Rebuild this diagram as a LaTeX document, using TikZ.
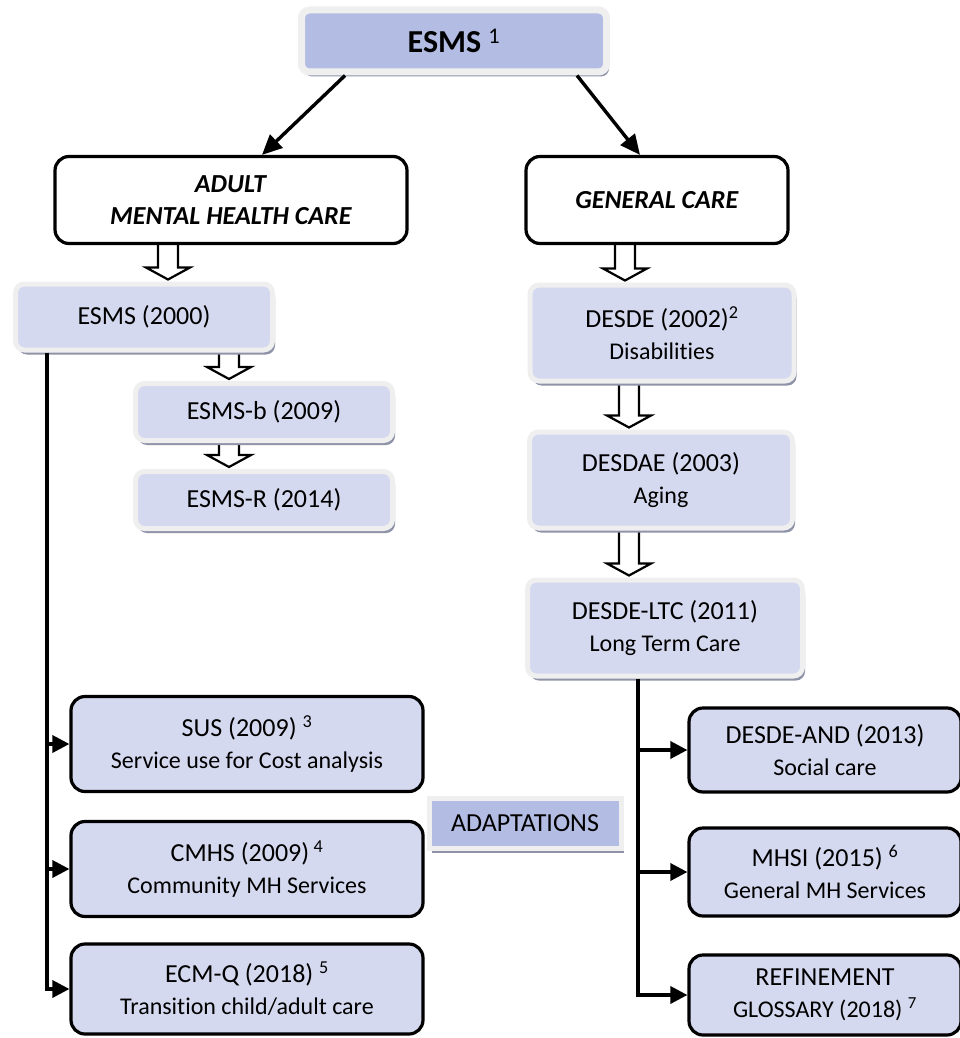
\documentclass[tikz,border=0pt]{standalone}
\usepackage{fontspec}
\setmainfont[Ligatures=NoCommon]{Carlito}
\usetikzlibrary{arrows.meta,shadows,calc,backgrounds}
\definecolor{lightfill}{HTML}{D5D9EF}
\definecolor{darkfill}{HTML}{B3BCE2}
\definecolor{framecol}{HTML}{EFEFEF}
\definecolor{shadowcol}{HTML}{8E93A8}
\newcommand{\subline}[1]{{\fontsize{24}{30}\selectfont #1}}
\tikzset{
  txt/.style={align=center, font=\fontsize{26}{32}\selectfont, inner sep=0pt},
  softbox/.style={txt, rounded corners=9pt, fill=lightfill, draw=framecol, line width=5pt,
    drop shadow={shadow xshift=2.5pt, shadow yshift=-4.5pt, fill=shadowcol, opacity=1}},
  darkbox/.style={softbox, fill=darkfill},
  wbox/.style={txt, rounded corners=14pt, fill=white, draw=black, line width=3.2pt},
  bbox/.style={wbox, fill=lightfill},
  conn/.style={line width=3.4pt, draw=black},
  tip/.style={-{Triangle[length=17pt,width=17pt]}},
  bigtip/.style={-{Triangle[length=20pt,width=18pt]}},
  hollow/.style={draw=black, line width=2.2pt, fill=white, line join=miter},
}
\newcommand{\blockarrow}[3]{%
  \draw[hollow] let \p1=(#2.south), \p2=(#3.north) in
    ({#1pt-10pt},\y1) -- ({#1pt-10pt},{\y2+14pt}) -- ({#1pt-22pt},{\y2+14pt}) --
    ({#1pt},{\y2+2pt}) -- ({#1pt+22pt},{\y2+14pt}) -- ({#1pt+10pt},{\y2+14pt}) --
    ({#1pt+10pt},\y1);}
\begin{document}
\begin{tikzpicture}[x=1pt,y=-1pt]
\useasboundingbox (0,0) rectangle (959,1038);
% top
\node[darkbox, line width=7pt, rounded corners=8pt, minimum width=305pt, minimum height=62pt,
  font=\fontsize{32}{36}\selectfont] (top) at (454,41) {\textbf{ESMS} \textsuperscript{1}};
\node[wbox, minimum width=352pt, minimum height=87pt] (adult) at (231,200)
  {\textbf{\textit{ADULT}}\\\textbf{\textit{MENTAL HEALTH CARE}}};
\node[wbox, minimum width=262pt, minimum height=87pt] (general) at (657,200)
  {\textbf{\textit{GENERAL CARE}}};
% left column
\node[softbox, minimum width=257pt, minimum height=66pt] (esms00) at (144,317) {ESMS (2000)};
\node[softbox, minimum width=257pt, minimum height=57pt] (esmsb) at (264,412) {ESMS-b (2009)};
\node[softbox, minimum width=257pt, minimum height=57pt] (esmsr) at (264,500) {ESMS-R (2014)};
% right column
\node[softbox, minimum width=264pt, minimum height=96pt] (desde) at (662,333)
  {DESDE (2002)\textsuperscript{2}\\\subline{Disabilities}};
\node[softbox, minimum width=263pt, minimum height=96pt] (desdae) at (661,480)
  {DESDAE (2003)\\\subline{Aging}};
\node[softbox, minimum width=275pt, minimum height=96pt] (ltc) at (665,628)
  {DESDE-LTC (2011)\\\subline{Long Term Care}};
% adaptations left
\node[bbox, minimum width=352pt, minimum height=95pt] (sus) at (247,744)
  {SUS (2009) \textsuperscript{3}\\\subline{Service use for Cost analysis}};
\node[bbox, minimum width=352pt, minimum height=95pt] (cmhs) at (247,869)
  {CMHS (2009)\,\textsuperscript{4}\\\subline{Community MH Services}};
\node[bbox, minimum width=352pt, minimum height=90pt] (ecmq) at (247,989)
  {ECM-Q (2018) \textsuperscript{5}\\\subline{Transition child/adult care}};
\node[darkbox, rounded corners=0pt, minimum width=192pt, minimum height=50pt] (adapt) at (525,823)
  {ADAPTATIONS};
% adaptations right
\node[bbox, minimum width=272pt, minimum height=84pt] (dand) at (825,750)
  {DESDE-AND (2013)\\\subline{Social care}};
\node[bbox, minimum width=272pt, minimum height=88pt] (mhsi) at (825,872)
  {MHSI (2015) \textsuperscript{6}\\\subline{General MH Services}};
\node[bbox, minimum width=272pt, minimum height=80pt] (refine) at (825,995)
  {REFINEMENT\\\subline{GLOSSARY (2018) \textsuperscript{7}}};
% helper coordinates
\coordinate (t1) at (345,0);
\coordinate (t2) at (577,0);
\coordinate (a1) at (262,0);
\coordinate (a2) at (640,0);
\coordinate (lx) at (47,0);
\coordinate (rx) at (638,0);
% connectors
\draw[conn, bigtip] (top.south -| t1) -- (adult.north -| a1);
\draw[conn, bigtip] (top.south -| t2) -- (general.north -| a2);
\draw[conn, tip] (esms00.south -| lx) |- (ecmq.west);
\draw[conn, tip] (sus.west -| lx) -- (sus.west);
\draw[conn, tip] (cmhs.west -| lx) -- (cmhs.west);
\draw[conn, tip] (ltc.south -| rx) |- (refine.west);
\draw[conn, tip] (dand.west -| rx) -- (dand.west);
\draw[conn, tip] (mhsi.west -| rx) -- (mhsi.west);
\begin{scope}[on background layer]
\blockarrow{168}{adult}{esms00}
\blockarrow{229}{esms00}{esmsb}
\blockarrow{229}{esmsb}{esmsr}
\blockarrow{625}{general}{desde}
\blockarrow{629}{desde}{desdae}
\blockarrow{629}{desdae}{ltc}
\end{scope}
\end{tikzpicture}
\end{document}
